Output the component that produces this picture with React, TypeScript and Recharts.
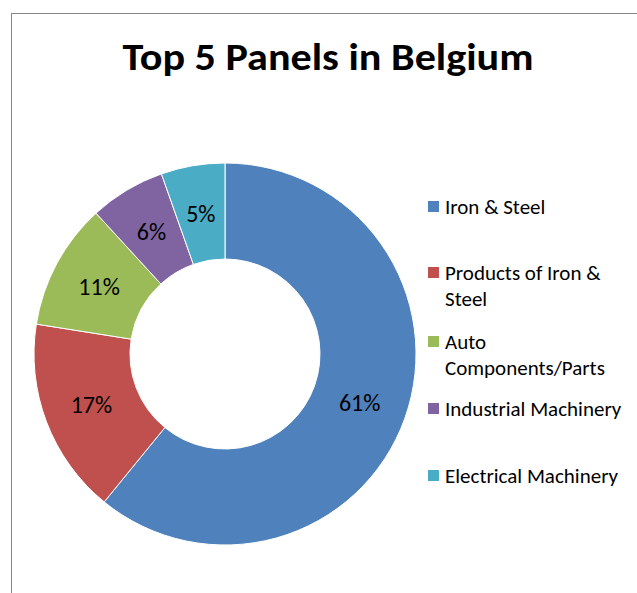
import React from 'react';
import { PieChart, Pie, Cell, Legend } from 'recharts';

const categories = [
  'Iron & Steel',
  'Products of Iron & Steel',
  'Auto Components/Parts',
  'Industrial Machinery',
  'Electrical Machinery',
];
// shares (labels show them rounded)
const shares = [60.9, 16.6, 10.7, 6.4, 5.4];
const colors = ['#4F81BD', '#C0504D', '#9BBB59', '#8064A2', '#4BACC6'];
// legend rows as they wrap in the original
const legendLines = [
  ['Iron & Steel'],
  ['Products of Iron &', 'Steel'],
  ['Auto', 'Components/Parts'],
  ['Industrial Machinery'],
  ['Electrical Machinery'],
];
const legendTops = [194, 260, 329, 396, 463];

const data = categories.map((name, i) => ({ name, value: shares[i] }));

const FONT = 'Carlito, Calibri, Lato, sans-serif';
const RAD = Math.PI / 180;

const renderLabel = (props: any) => {
  const { cx, cy, midAngle, innerRadius, outerRadius, percent } = props;
  const r = (innerRadius + outerRadius) / 2;
  const x = cx + r * Math.cos(-midAngle * RAD);
  const y = cy + r * Math.sin(-midAngle * RAD);
  return (
    <text x={x} y={y} fill="#000" fontSize={24} fontFamily={FONT} textAnchor="middle" dominantBaseline="central">
      {Math.round(percent * 100)}%
    </text>
  );
};

const LegendBox = () => (
  <div style={{ position: 'relative', width: 209, height: 593, fontFamily: FONT, fontSize: 21, color: '#000' }}>
    {legendLines.map((lines, i) => (
      <div key={i} style={{ position: 'absolute', left: 0, top: legendTops[i], lineHeight: '26px' }}>
        <span style={{ position: 'absolute', left: 0, top: 7, width: 11, height: 11, background: colors[i] }} />
        <div style={{ marginLeft: 17, whiteSpace: 'nowrap' }}>
          {lines.map((l, j) => (
            <div key={j}>{l}</div>
          ))}
        </div>
      </div>
    ))}
  </div>
);

export default function App() {
  return (
    <div style={{ position: 'absolute', left: 0, top: 0, width: 637, height: 593, background: '#fff', overflow: 'hidden' }}>
      <div style={{ position: 'absolute', left: 11, top: 13, right: -2, bottom: -2, borderLeft: '1px solid #868686', borderTop: '1px solid #868686' }} />
      <PieChart width={637} height={593} margin={{ top: 0, right: 0, bottom: 0, left: 0 }} style={{ position: 'absolute', left: 0, top: 0 }}>
        <text x={328} y={70} textAnchor="middle" fontFamily={FONT} fontWeight="bold" fontSize={39} textLength={411} lengthAdjust="spacingAndGlyphs" fill="#000">
          Top 5 Panels in Belgium
        </text>
        <Pie
          data={data}
          dataKey="value"
          nameKey="name"
          cx={225}
          cy={354}
          outerRadius={191}
          innerRadius={95}
          startAngle={90}
          endAngle={-270}
          stroke="#fff"
          strokeWidth={1}
          label={renderLabel}
          labelLine={false}
          isAnimationActive={false}
        >
          {data.map((d, i) => (
            <Cell key={d.name} fill={colors[i]} />
          ))}
        </Pie>
        <Legend content={<LegendBox />} wrapperStyle={{ left: 428, top: 0, width: 209, height: 593 }} />
      </PieChart>
    </div>
  );
}
